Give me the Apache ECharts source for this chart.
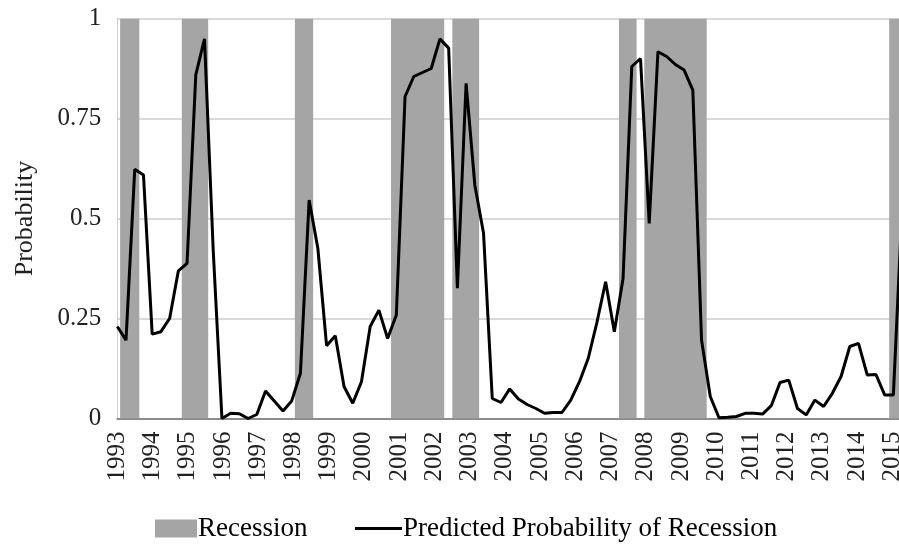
<!DOCTYPE html>
<html>
<head>
<meta charset="utf-8">
<script src="https://cdn.jsdelivr.net/npm/echarts@6/dist/echarts.min.js"></script>
<style>
html,body{margin:0;padding:0;background:#fff;}
#chart{width:899px;height:546px;}
</style>
</head>
<body>
<div id="chart"></div>
<script>
// Quarterly observation labels (hidden axis for the line)
var quarters = [];
for (var y = 1993; y <= 2015; y++) { for (var q = 1; q <= 4; q++) { quarters.push(y + 'Q' + q); } }
quarters = quarters.slice(0, 91);

// Predicted probability of recession
var probability = [
  0.23, 0.196, 0.623, 0.609, 0.211, 0.217, 0.25, 0.369, 0.388, 0.859,
  0.949, 0.42, 0.0, 0.013, 0.012, 0.0, 0.01, 0.069, 0.044, 0.019,
  0.044, 0.113, 0.546, 0.425, 0.182, 0.207, 0.08, 0.038, 0.092, 0.23,
  0.271, 0.2, 0.259, 0.805, 0.855, 0.865, 0.875, 0.949, 0.926, 0.326,
  0.838, 0.584, 0.463, 0.05, 0.04, 0.074, 0.049, 0.035, 0.025, 0.013,
  0.015, 0.015, 0.046, 0.092, 0.15, 0.24, 0.342, 0.217, 0.35, 0.88,
  0.9, 0.488, 0.917, 0.905, 0.885, 0.871, 0.821, 0.196, 0.055, 0.002,
  0.003, 0.005, 0.013, 0.013, 0.011, 0.032, 0.09, 0.096, 0.025, 0.009,
  0.046, 0.03, 0.063, 0.105, 0.18, 0.188, 0.109, 0.11, 0.059, 0.059,
  0.53
];

// Recession periods [start, end] in fractional years
var recessions = [
  [1993.08, 1993.625],
  [1994.83, 1995.58],
  [1998.04, 1998.56],
  [2000.77, 2002.28],
  [2002.51, 2003.27],
  [2007.24, 2007.74],
  [2007.96, 2009.73],
  [2014.91, 2015.6]
];

var yTicks = [0, 0.25, 0.5, 0.75, 1];
var yearMin = 1993, yearMax = 2015.277;

var chart = echarts.init(document.getElementById('chart'));
var font = '"Liberation Serif", "Times New Roman", serif';
chart.setOption({
  backgroundColor: '#ffffff',
  animation: false,
  textStyle: { fontFamily: font },
  grid: { left: 117.3, right: -3.1, top: 18.5, bottom: 127.5, containLabel: false, outerBoundsMode: 'none' },
  legend: [
    {
      left: 150, top: 510,
      itemWidth: 42, itemHeight: 18,
      textStyle: { fontFamily: font, fontSize: 27, color: '#000', padding: [0, 0, 0, -4] },
      data: [{ name: 'Recession', icon: 'rect' }]
    },
    {
      left: 350, top: 510,
      itemWidth: 47, itemHeight: 3,
      textStyle: { fontFamily: font, fontSize: 27, color: '#000', padding: [0, 0, 0, -4] },
      data: [{ name: 'Predicted Probability of Recession', icon: 'rect' }]
    }
  ],
  xAxis: [
    {
      type: 'category', data: quarters, boundaryGap: false, show: false
    },
    {
      type: 'value', min: yearMin, max: yearMax, interval: 1, position: 'bottom',
      axisLine: { show: true, onZero: false, lineStyle: { color: '#8c8c8c', width: 2 } },
      axisTick: { show: false },
      splitLine: { show: false },
      axisLabel: {
        rotate: 90, margin: 13, fontFamily: font, fontSize: 25, color: '#222',
        showMaxLabel: false,
        formatter: function (v) { return Math.abs(v - Math.round(v)) < 1e-6 ? String(Math.round(v)) : ''; }
      }
    }
  ],
  yAxis: {
    type: 'value', min: yTicks[0], max: yTicks[yTicks.length - 1], interval: 0.25,
    name: 'Probability', nameLocation: 'middle', nameGap: 79, nameRotate: 90,
    nameTextStyle: { fontFamily: font, fontSize: 26, color: '#222' },
    axisLine: { show: true, lineStyle: { color: '#d0d0d0', width: 1 } },
    axisTick: { show: false },
    splitLine: { lineStyle: { color: '#d9d9d9', width: 2 } },
    axisLabel: { margin: 16, fontFamily: font, fontSize: 25, color: '#222' }
  },
  series: [
    {
      name: 'Recession', type: 'custom', xAxisIndex: 1, yAxisIndex: 0,
      itemStyle: { color: '#a5a5a6' },
      encode: { x: [0, 1] },
      data: recessions,
      clip: true,
      renderItem: function (params, api) {
        var p0 = api.coord([api.value(0), 1]);
        var p1 = api.coord([api.value(1), 0]);
        var rect = echarts.graphic.clipRectByRect({
          x: p0[0], y: p0[1], width: p1[0] - p0[0], height: p1[1] - p0[1]
        }, {
          x: params.coordSys.x, y: params.coordSys.y,
          width: params.coordSys.width, height: params.coordSys.height
        });
        return rect && { type: 'rect', shape: rect, style: { fill: '#a5a5a6' } };
      }
    },
    {
      name: 'Predicted Probability of Recession', type: 'line', xAxisIndex: 0, yAxisIndex: 0,
      data: probability, symbol: 'none', showSymbol: false, z: 5,
      lineStyle: { color: '#000', width: 3 },
      itemStyle: { color: '#000' }
    }
  ]
});
</script>
</body>
</html>
